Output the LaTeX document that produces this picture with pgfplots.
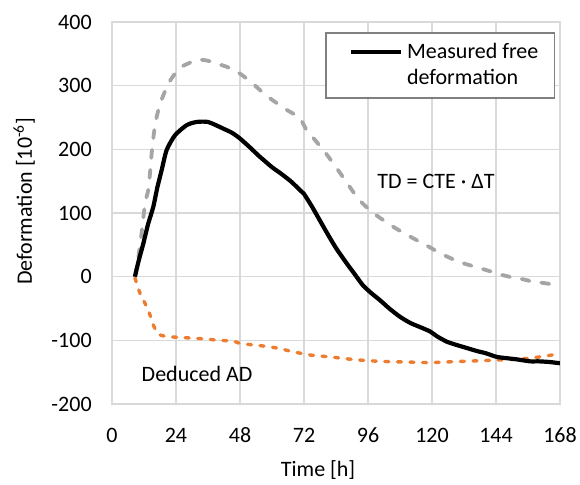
\documentclass[border=0pt]{standalone}
\usepackage{fontspec}
\setmainfont{Carlito}
\usepackage{pgfplots}
\pgfplotsset{compat=1.18}
\definecolor{gridgray}{HTML}{D9D9D9}
\definecolor{tdgray}{HTML}{A5A5A5}
\definecolor{adorange}{HTML}{ED7D31}

\begin{document}
\fontsize{11}{13.2}\selectfont
\begin{tikzpicture}
\begin{axis}[
    at={(0,0)}, anchor=south west,
    scale only axis, width=224pt, height=191pt,
    xmin=0, xmax=168, ymin=-200, ymax=400,
    xtick={0,24,...,168}, ytick={-200,-100,...,400},
    grid=major,
    major grid style={gridgray, line width=0.65pt},
    axis line style={gridgray, line width=0.65pt},
    tick style={draw=none},
    /pgf/number format/assume math mode=true,
    ticklabel style={font=\fontsize{11}{13.2}\selectfont},
    xticklabel style={anchor=center, yshift=-15.5pt},
    yticklabel style={anchor=east, xshift=-6.3pt},
    xlabel={Time [h]},
    ylabel={Deformation [10\textsuperscript{-6}]},
    every axis x label/.style={at={(axis description cs:0.46,-0.173)}, anchor=center},
    every axis y label/.style={at={(axis description cs:-0.196,0.531)}, anchor=center, rotate=90},
    legend style={at={(axis description cs:0.989,0.973)}, anchor=north east,
        draw=black!50, line width=0.7pt, fill=white,
        inner xsep=6pt, inner ysep=3pt,
        nodes={align=left, inner sep=2pt}},
    legend image code/.code={\path[draw=none, fill=none] (0pt,0pt) -- (6.5pt,0pt);
        \draw[#1] (6.5pt,6.75pt) -- (31.5pt,6.75pt);},
]
% TD = CTE * dT
\addplot[tdgray, line width=1.9pt, line cap=round, dash pattern=on 4pt off 6pt, smooth, tension=0.4, forget plot] coordinates {
(8.6,0) (9.9,31) (11,65) (12.4,115) (13.75,140) (15,199) (16.25,241) (18.1,272)
(21.25,304) (25.5,328) (31.75,340) (35,340) (39.25,335) (44,328) (48,319)
(52,306) (55,295) (58,284) (62,272) (65.5,262) (68,256) (70.5,249) (73,230)
(75.5,218) (78,205) (80.5,192) (84,172) (88,148) (91,130) (94,115) (98,100)
(102,88) (106,77) (110,67) (114,58) (118,49) (123,37) (127,29) (131,22)
(135,17) (139,12) (143,7) (146,3) (150,-1) (154,-4) (158,-8) (162,-10)
(165,-12) (168,-13)
};
% deduced AD
\addplot[adorange, line width=1.7pt, line cap=round, dash pattern=on 2pt off 4.3pt, smooth, tension=0.4, forget plot] coordinates {
(8.6,-2) (10.5,-26) (12.4,-42) (14.25,-60) (15.5,-76) (17.4,-90) (20.5,-94)
(28,-96) (35.5,-98) (40,-100) (45.5,-101) (48,-105) (55,-108) (61.75,-112)
(68,-118) (74.25,-123) (81.75,-126) (88,-129) (93,-131) (100.5,-133) (110,-134)
(119.25,-135) (125,-134) (131.75,-133) (138,-132) (144.25,-131) (150,-130)
(156.75,-128) (162,-125) (168,-121)
};
% measured free deformation
\addplot[black, line width=2.1pt, smooth, tension=0.4] coordinates {
(8.6,0) (10,25) (11.75,52) (13.5,82) (15.5,110) (17,140) (18.6,167) (20.5,199)
(23.6,222) (28,238) (31.75,243) (36,243) (40.5,235) (42,232) (45,226) (48,217)
(52,202) (55,190) (60,172) (63,163) (67,150) (71,134) (72,130) (75,110)
(78,88) (81,66) (84,45) (88,21) (91,4) (94,-13) (97,-25) (100.5,-37) (104,-50)
(108,-63) (112,-73) (116,-80) (119.25,-86) (122,-94) (125.5,-102) (129,-107)
(133,-112) (137,-117) (140,-120) (144.25,-126) (148,-128) (152,-130)
(156.75,-133) (160,-133) (164,-134) (168,-136)
};
\addlegendentry{Measured free\\deformation}
\node[anchor=center] at (axis cs:121.5,149) {TD = CTE · ΔT};
\node[anchor=center] at (axis cs:31.9,-153) {Deduced AD};
\end{axis}
\pgfresetboundingbox
\path[use as bounding box] (-56pt,-40pt) rectangle (234pt,202pt);
\end{tikzpicture}
\end{document}
